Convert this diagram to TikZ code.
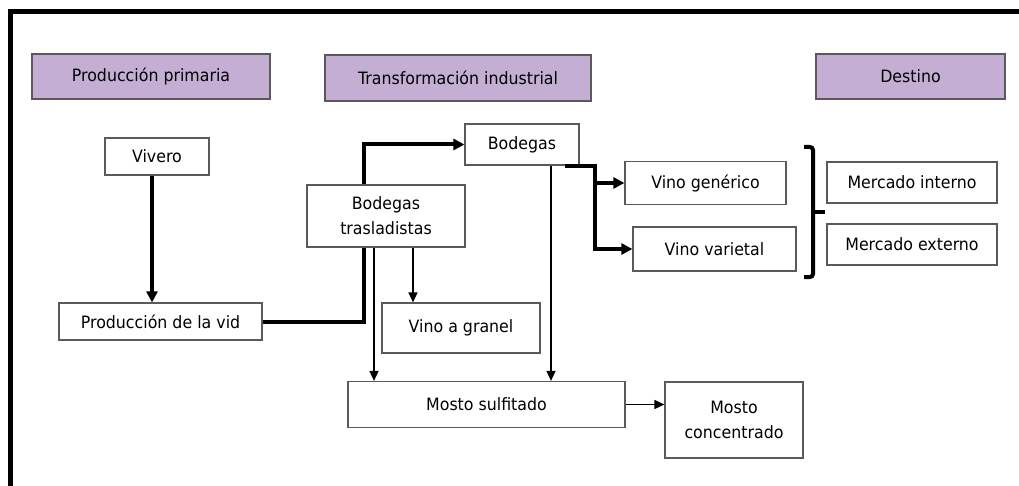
\documentclass[tikz,border=0pt]{standalone}
\usepackage{fontspec}
\setmainfont{DejaVu Sans}[FakeStretch=0.93]
\usepackage{tikz}
\usetikzlibrary{arrows.meta, backgrounds, positioning}
\definecolor{lavanda}{RGB}{196,174,211}
\definecolor{borde}{RGB}{90,90,90}

\tikzset{
  caja/.style={draw=borde, line width=1.2pt, fill=white, align=center, inner sep=0pt, font=\fontsize{17}{25}\selectfont},
  titulo/.style={caja, fill=lavanda},
  gruesa/.style={line width=4pt, -{Triangle[length=11pt,width=11pt]}},
  fina/.style={line width=1.6pt, -{Triangle[length=10pt,width=9pt]}},
}

\begin{document}
\begin{tikzpicture}[x=1pt, y=-1pt]
\useasboundingbox (0,0) rectangle (1019,486);
%% marco
\draw[line width=5pt] (10,486) -- (10,12) -- (1019,12);

%% etapas
\node[titulo, minimum width=238pt, minimum height=45pt] (prim) at (151,76.5) {Producción primaria};
\node[titulo, minimum width=266pt, minimum height=46pt] (trans) at (458,78) {Transformación industrial};
\node[titulo, minimum width=189pt, minimum height=45pt] (dest) at (910.5,76.5) {Destino};

%% cadena
\node[caja, minimum width=104pt, minimum height=37pt] (vivero) at (157,156.5) {Vivero};
\node[caja, minimum width=203pt, minimum height=37pt] (vid) at (160.5,321.5) {Producción de la vid};
\node[caja, minimum width=114pt, minimum height=41pt] (bodegas) at (522,144.5) {Bodegas};
\node[caja, minimum width=158pt, minimum height=62pt] (trasl) at (386,216) {Bodegas\\trasladistas};
\node[caja, minimum width=158pt, minimum height=50pt] (granel) at (461,328) {Vino a granel};
\node[caja, minimum width=277pt, minimum height=46pt] (sulfitado) at (486.5,404.5) {Mosto sulfitado};
\node[caja, minimum width=138pt, minimum height=76pt] (concentrado) at (734,420) {Mosto\\concentrado};
\node[caja, minimum width=161pt, minimum height=43pt] (generico) at (705.5,183) {Vino genérico};
\node[caja, minimum width=163pt, minimum height=44pt] (varietal) at (714.5,249) {Vino varietal};
\node[caja, minimum width=170pt, minimum height=41pt] (interno) at (912,182.5) {Mercado interno};
\node[caja, minimum width=170pt, minimum height=41pt] (externo) at (912,244.5) {Mercado externo};

%% flechas
\begin{scope}[on background layer]
\draw[gruesa] (vid.east) -| ([xshift=-22pt]trasl.center) |- (bodegas.west);
\end{scope}
\draw[gruesa] ([xshift=-5pt]vivero.south) -- ([xshift=-5pt]vivero.south |- vid.north);
\draw[gruesa] ([xshift=43pt]bodegas.south) -- ++(30,0) coordinate (rama) |- (varietal.west);
\draw[gruesa] (rama |- generico.west) -- (generico.west);
\draw[fina] ([xshift=-12pt]trasl.south) -- ([xshift=-12pt]trasl.south |- sulfitado.north);
\draw[fina] ([xshift=27pt]trasl.south) -- ([xshift=27pt]trasl.south |- granel.north);
\draw[fina] ([xshift=29pt]bodegas.south) -- ([xshift=29pt]bodegas.south |- sulfitado.north);
\draw[fina] (sulfitado.east) -- (sulfitado.east -| concentrado.west);

%% llave
\draw[line width=4pt, rounded corners=3pt] (804,147) -| (813,277) -- (804,277);
\draw[line width=4pt] (813,212) -- (825,212);
\end{tikzpicture}
\end{document}
